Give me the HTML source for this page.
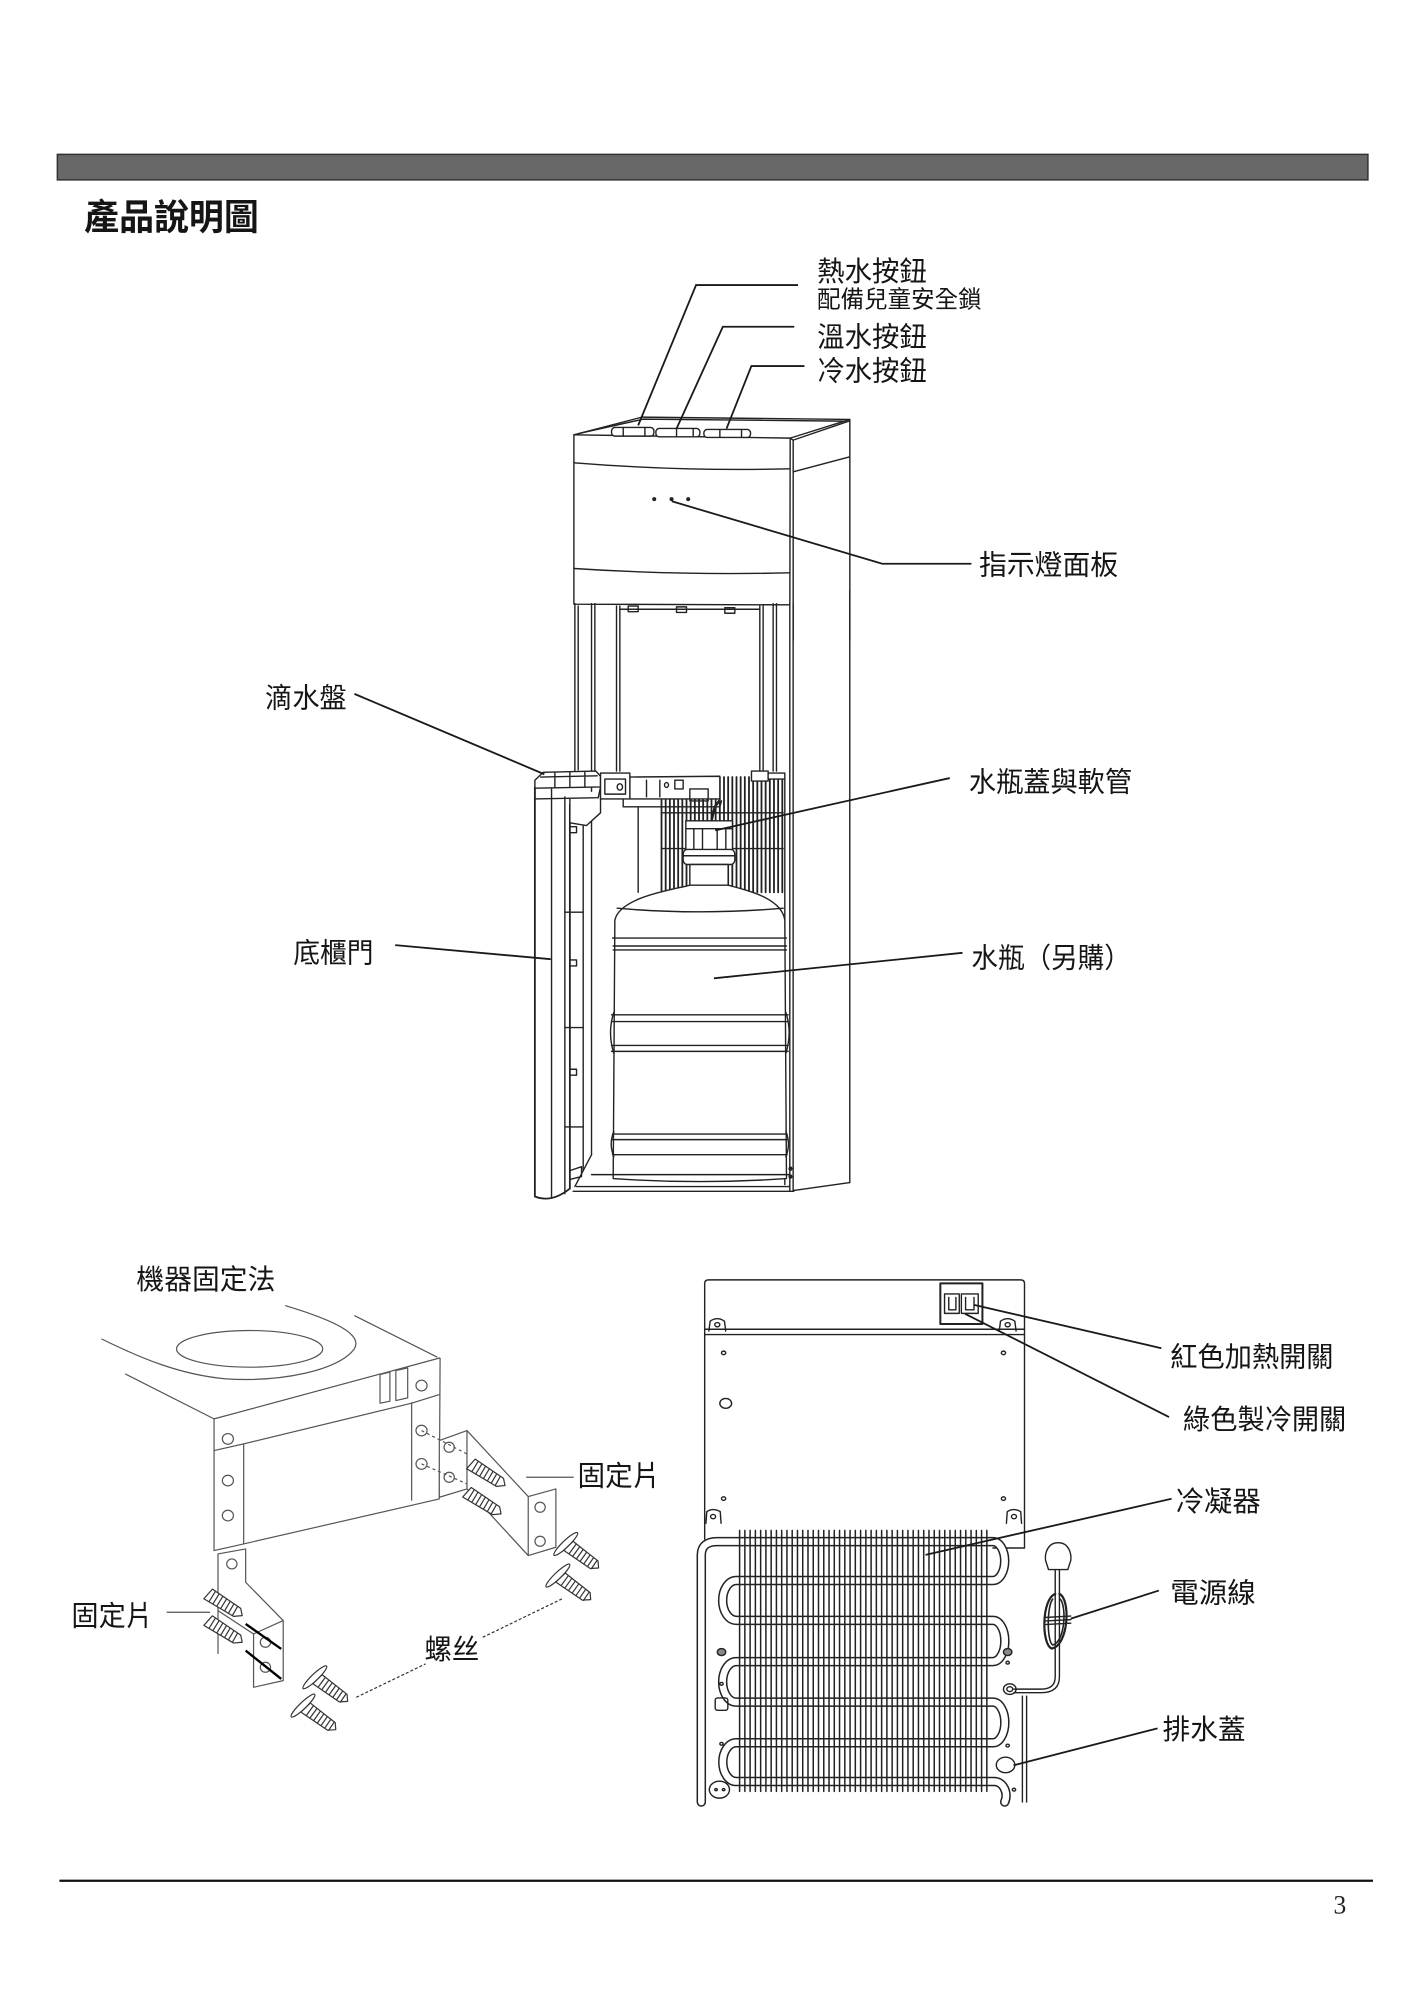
<!DOCTYPE html>
<html><head><meta charset="utf-8"><style>
html,body{margin:0;padding:0;background:#fff;}
svg{display:block;}
svg *{vector-effect:non-scaling-stroke;}
.t{font-family:"Liberation Sans","Noto Sans CJK TC","Noto Sans CJK SC",sans-serif;fill:#151515;}
.d{fill:none;stroke:#222;stroke-width:1.4;stroke-linejoin:round;stroke-linecap:round;}
.g{fill:none;stroke:#555;stroke-width:1.2;stroke-linejoin:round;}
.ld{fill:none;stroke:#1a1a1a;stroke-width:1.8;}
</style></head><body>
<svg width="1424" height="2000" viewBox="0 0 1117 1568" preserveAspectRatio="none" xmlns="http://www.w3.org/2000/svg">
<rect x="0" y="0" width="1117" height="1568" fill="#fff"/>
<!-- header bar -->
<rect x="45" y="121" width="1028" height="20" fill="#686868" stroke="#333" stroke-width="1.5"/>
<text class="t" x="66" y="180" font-size="28" font-weight="700" textLength="137" lengthAdjust="spacingAndGlyphs">產品說明圖</text>

<!-- ===== HEAD (zoom4 space) ===== -->
<g transform="translate(439.2,313.7) scale(0.2614)" class="d">
 <path d="M42,104 L246,51 L870,58 L691,114 Z" fill="#fff"/>
 <path d="M58,100 L250,57 L850,63"/>
 <rect x="155" y="82" width="127" height="26" rx="10" fill="#fff"/>
 <path d="M190,84 L190,106 M255,84 L255,106"/>
 <rect x="288" y="85" width="132" height="25" rx="10" fill="#fff"/>
 <path d="M350,87 L350,108 M400,87 L400,108"/>
 <rect x="432" y="88" width="140" height="24" rx="10" fill="#fff"/>
 <path d="M480,90 L480,110 M545,90 L545,110"/>
 <path d="M42,104 L42,612 L690,614 L691,114"/>
 <path d="M42,188 Q366,214 690,206"/>
 <path d="M42,505 Q366,526 690,518"/>
 <path d="M691,114 L700,120 L870,62"/>
 <path d="M700,120 L700,720"/>
 <path d="M870,58 L870,720"/>
 <path d="M700,215 L870,170"/>
 <circle cx="283" cy="297" r="4" fill="#222"/>
 <circle cx="335" cy="297" r="4" fill="#222"/>
 <circle cx="385" cy="297" r="4" fill="#222"/>
</g>

<!-- ===== CABINET (zoom3 space) ===== -->
<g transform="translate(407.8,462.7) scale(0.2614,0.3117)" class="d">
 <path d="M165,34 L165,460 M175,40 L175,452 M215,34 L215,1420 M225,34 L225,455 M290,40 L290,455 M300,40 L300,455"/>
 <path d="M300,48 L720,48"/>
 <rect x="325" y="40" width="30" height="14"/>
 <rect x="470" y="42" width="30" height="14"/>
 <rect x="615" y="44" width="30" height="14"/>
 <path d="M720,40 L720,455 M730,40 L730,455 M760,34 L760,455 M770,34 L770,455"/>
 <path d="M810,34 L810,1510 M820,34 L820,1510 M990,0 L990,1490 M795,470 L795,1495"/>
 <path d="M355,545 L355,760"/>
 <path stroke-width="1.8" d="M425,470V760M437.5,470V760M450,470V760M462.5,470V760M475,470V760M487.5,470V760M500,470V760M512.5,470V760M525,470V760M537.5,470V760M550,470V760M562.5,470V760M575,470V760M587.5,470V760M600,470V760M612.5,470V760M625,470V760M637.5,470V760M650,470V760M662.5,470V760M675,470V760M687.5,470V760M700,470V760M712.5,470V760M725,470V760M737.5,470V760M750,470V760M762.5,470V760M775,470V760M787.5,470V760"/>
 <path d="M425,560 L790,560 M425,650 L790,650"/>
 <rect x="695" y="455" width="50" height="25" fill="#fff"/>
 <rect x="745" y="460" width="50" height="15" fill="#fff"/>
 <path d="M330,470 L600,468 L600,525 L330,525 Z" fill="#fff"/>
 <path d="M310,525 L310,545 L600,545 L605,530"/>
 <circle cx="440" cy="490" r="6"/>
 <rect x="465" y="478" width="25" height="22"/>
 <path d="M510,500 L565,500 L565,530 L510,530 Z"/>
 <path d="M380,478 L380,520 M420,478 L420,520"/>
 <path d="M575,580 L585,545 L598,530" stroke-width="2.5"/>
 <rect x="498" y="580" width="140" height="75" fill="#fff"/>
 <path d="M498,600 L638,600 M522,600 L522,652 M548,600 L548,652 M592,600 L592,652 M618,600 L618,652"/>
 <rect x="490" y="652" width="155" height="38" rx="12" fill="#fff"/>
 <path d="M492,668 L643,668"/>
 <rect x="510" y="690" width="115" height="55" fill="#fff"/>
 <path d="M510,742 C470,752 300,770 285,830 L280,1480 Q540,1495 800,1480 L795,830 C785,770 665,752 625,742 Z" fill="#fff"/>
 <path d="M292,800 Q540,818 790,800 M278,875 L800,875"/>
 <path d="M280,895 L800,895 M280,905 L800,905"/>
 <path d="M275,1068 L805,1068 M275,1085 L805,1085 M275,1145 L805,1145 M275,1160 L805,1160"/>
 <path d="M282,1062 Q262,1112 282,1165 M798,1062 Q818,1112 798,1165"/>
 <path d="M278,1368 L802,1368 M278,1382 L802,1382 M278,1420 L802,1420"/>
 <path d="M282,1362 Q266,1392 282,1425 M798,1362 Q814,1392 798,1425"/>
 <path d="M282,1470 L800,1470"/>
 <path d="M215,1420 L165,1500 M170,1500 L810,1500 M160,1512 L822,1512 M215,1470 L280,1470 M800,1470 L810,1470"/>
 <path d="M820,1510 L990,1490"/>
 <circle cx="812" cy="1455" r="4" fill="#222"/>
 <circle cx="812" cy="1475" r="4" fill="#222"/>
 <path d="M45,495 L45,1525 Q95,1542 150,1505 L150,540" fill="#fff" stroke-width="1.8"/>
 <path d="M95,500 L95,1528 M135,520 L135,1518 M190,580 L190,1460"/>
 <rect x="150" y="595" width="20" height="15"/>
 <rect x="150" y="930" width="20" height="15"/>
 <rect x="150" y="1205" width="20" height="15"/>
 <path d="M135,810 L190,810 M135,1100 L190,1100 M135,1350 L190,1350"/>
 <path d="M150,1460 L185,1450 L185,1475 L150,1482"/>
 <path d="M150,525 L150,585 L200,592 L242,560 L242,500" fill="#fff"/>
 <path d="M45,478 L70,458 L228,455 L242,468 L242,495 L45,498 Z" fill="#fff"/>
 <path d="M45,498 L45,525 L235,522 L242,495"/>
 <path d="M62,470 L232,467 M105,460 L105,495 M150,458 L150,495 M195,457 L195,495"/>
 <rect x="242" y="460" width="88" height="65" fill="#fff"/>
 <rect x="255" y="475" width="62" height="38"/>
 <circle cx="300" cy="495" r="8"/>
</g>

<path class="ld" d="M626,223.5 L546,223.5 L500.6,333.5"/>
<path class="ld" d="M623,256.2 L567,256.2 L530.7,336"/>
<path class="ld" d="M631,287 L589.4,287 L569.9,336"/>
<text class="t" x="641" y="220.5" font-size="22" textLength="86" lengthAdjust="spacingAndGlyphs">熱水按鈕</text>
<text class="t" x="641" y="241" font-size="18.5" textLength="129" lengthAdjust="spacingAndGlyphs">配備兒童安全鎖</text>
<text class="t" x="641" y="271.5" font-size="22" textLength="86" lengthAdjust="spacingAndGlyphs">溫水按鈕</text>
<text class="t" x="641" y="298.5" font-size="22" textLength="86" lengthAdjust="spacingAndGlyphs">冷水按鈕</text>

<path class="ld" d="M527,393 L692,442 L762,442"/>
<text class="t" x="768" y="450.5" font-size="22" textLength="109" lengthAdjust="spacingAndGlyphs">指示燈面板</text>
<path class="ld" d="M278,544 L427,607"/>
<text class="t" x="208" y="554.5" font-size="22" textLength="64" lengthAdjust="spacingAndGlyphs">滴水盤</text>
<path class="ld" d="M745,610 L561,651"/>
<text class="t" x="760" y="620.5" font-size="22" textLength="128" lengthAdjust="spacingAndGlyphs">水瓶蓋與軟管</text>
<path class="ld" d="M310,741 L432,752"/>
<text class="t" x="230" y="754.5" font-size="22" textLength="63" lengthAdjust="spacingAndGlyphs">底櫃門</text>
<path class="ld" d="M755,747 L560,767"/>
<text class="t" x="762" y="758.5" font-size="22" textLength="125" lengthAdjust="spacingAndGlyphs">水瓶（另購）</text>

<!-- ===== BOTTOM LEFT (zoom5 space) ===== -->
<g transform="translate(47,980.4) scale(0.31,0.2614)" class="g">
 <path d="M105,265 C200,320 300,372 420,385 C560,395 705,360 745,295 C765,255 710,215 570,165"/>
 <path d="M165,370 L390,505"/>
 <path d="M745,195 L955,320"/>
 <ellipse cx="480" cy="295" rx="185" ry="55"/>
 <path d="M390,505 L962,322"/>
 <path d="M390,505 L390,900 L465,880 L960,745 L962,322"/>
 <path d="M390,600 L465,580 L890,458 L960,432"/>
 <path d="M465,580 L465,880 M890,455 L890,750"/>
 <path d="M810,372 L835,365 L835,452 L810,458 Z M850,360 L880,352 L880,442 L850,450 Z"/>
 <ellipse cx="425" cy="565" rx="14" ry="16"/>
 <ellipse cx="425" cy="690" rx="14" ry="16"/>
 <ellipse cx="425" cy="795" rx="14" ry="16"/>
 <ellipse cx="915" cy="405" rx="14" ry="16"/>
 <ellipse cx="915" cy="540" rx="14" ry="16"/>
 <ellipse cx="915" cy="640" rx="14" ry="16"/>
 <path d="M960,570 L1030,540 L1030,715 L960,740 Z" fill="#fff"/>
 <path d="M1030,540 L1185,738 L1255,715 L1255,890 L1185,915 L1185,738 M1030,715 L1185,915"/>
 <ellipse cx="985" cy="590" rx="13" ry="15"/>
 <ellipse cx="985" cy="680" rx="13" ry="15"/>
 <ellipse cx="1215" cy="770" rx="13" ry="15"/>
 <ellipse cx="1215" cy="872" rx="13" ry="15"/>
 <path d="M915,540 L1030,610 M915,640 L1030,700" stroke-dasharray="3 3"/>
 <g transform="translate(1040,640) rotate(37)" stroke="#333"><path d="M0,-18 L92,-15 L108,0 L92,15 L0,18 Z" fill="#fff"/><path d="M10,-18 L16,18 M22,-18 L28,18 M34,-17 L40,17 M46,-17 L52,17 M58,-16 L64,16 M70,-16 L76,16 M82,-15 L88,15"/></g>
 <g transform="translate(1030,725) rotate(37)" stroke="#333"><path d="M0,-18 L92,-15 L108,0 L92,15 L0,18 Z" fill="#fff"/><path d="M10,-18 L16,18 M22,-18 L28,18 M34,-17 L40,17 M46,-17 L52,17 M58,-16 L64,16 M70,-16 L76,16 M82,-15 L88,15"/></g>
 <path d="M1180,680 L1300,680"/>
 <path d="M400,910 L470,895 L470,995 L565,1110 L565,1290 L490,1310 L490,1150 L400,1080 Z" fill="#fff"/>
 <path d="M490,1150 L565,1110"/>
 <ellipse cx="435" cy="940" rx="13" ry="15"/>
 <ellipse cx="520" cy="1175" rx="13" ry="15"/>
 <ellipse cx="520" cy="1250" rx="13" ry="15"/>
 <path d="M400,1080 L400,1210" />
 <g transform="translate(375,1030) rotate(37)" stroke="#333"><path d="M0,-18 L92,-15 L108,0 L92,15 L0,18 Z" fill="#fff"/><path d="M10,-18 L16,18 M22,-18 L28,18 M34,-17 L40,17 M46,-17 L52,17 M58,-16 L64,16 M70,-16 L76,16 M82,-15 L88,15"/></g>
 <g transform="translate(375,1110) rotate(37)" stroke="#333"><path d="M0,-18 L92,-15 L108,0 L92,15 L0,18 Z" fill="#fff"/><path d="M10,-18 L16,18 M22,-18 L28,18 M34,-17 L40,17 M46,-17 L52,17 M58,-16 L64,16 M70,-16 L76,16 M82,-15 L88,15"/></g>
 <path d="M470,1120 L560,1195 M470,1200 L560,1285" stroke="#000" stroke-width="2.4"/>
 <path d="M270,1085 L380,1085"/>
 <g transform="translate(1280,880) rotate(41)" stroke="#333"><ellipse cx="0" cy="0" rx="9" ry="45" fill="#fff"/><path d="M9,-18 L95,-15 L110,0 L95,15 L9,18 Z" fill="#fff"/><path d="M20,-18 L26,18 M32,-18 L38,18 M44,-17 L50,17 M56,-17 L62,17 M68,-16 L74,16 M80,-16 L86,16 M92,-15 L98,15"/></g>
 <g transform="translate(1260,975) rotate(41)" stroke="#333"><ellipse cx="0" cy="0" rx="9" ry="45" fill="#fff"/><path d="M9,-18 L95,-15 L110,0 L95,15 L9,18 Z" fill="#fff"/><path d="M20,-18 L26,18 M32,-18 L38,18 M44,-17 L50,17 M56,-17 L62,17 M68,-16 L74,16 M80,-16 L86,16 M92,-15 L98,15"/></g>
 <g transform="translate(645,1280) rotate(41)" stroke="#333"><ellipse cx="0" cy="0" rx="9" ry="45" fill="#fff"/><path d="M9,-18 L95,-15 L110,0 L95,15 L9,18 Z" fill="#fff"/><path d="M20,-18 L26,18 M32,-18 L38,18 M44,-17 L50,17 M56,-17 L62,17 M68,-16 L74,16 M80,-16 L86,16 M92,-15 L98,15"/></g>
 <g transform="translate(615,1365) rotate(41)" stroke="#333"><ellipse cx="0" cy="0" rx="9" ry="45" fill="#fff"/><path d="M9,-18 L95,-15 L110,0 L95,15 L9,18 Z" fill="#fff"/><path d="M20,-18 L26,18 M32,-18 L38,18 M44,-17 L50,17 M56,-17 L62,17 M68,-16 L74,16 M80,-16 L86,16 M92,-15 L98,15"/></g>
 <path d="M1070,1160 L1270,1045 M750,1340 L925,1240" stroke="#333" stroke-dasharray="3 2"/>
</g>
<text class="t" x="107" y="1010.5" font-size="22" textLength="109" lengthAdjust="spacingAndGlyphs">機器固定法</text>
<text class="t" x="453" y="1164.5" font-size="22" textLength="65" lengthAdjust="spacingAndGlyphs">固定片</text>
<text class="t" x="56" y="1274.5" font-size="22" textLength="64" lengthAdjust="spacingAndGlyphs">固定片</text>
<text class="t" x="333" y="1300.5" font-size="22" textLength="43" lengthAdjust="spacingAndGlyphs">螺丝</text>

<!-- ===== BOTTOM RIGHT (zoom6 space) ===== -->
<g transform="translate(541.2,988.2) scale(0.3301,0.2766)" class="d">
 <path d="M35,790 L35,65 Q35,55 45,55 L785,55 Q795,55 795,65 L795,815 L720,815"/>
 <path d="M35,195 L795,195 M35,210 L795,210"/>
 <rect x="595" y="65" width="100" height="115" stroke-width="2"/>
 <rect x="605" y="95" width="35" height="55"/>
 <rect x="645" y="95" width="40" height="55"/>
 <path d="M615,105 L615,140 L632,140 L632,105 M655,105 L655,140 L675,140 L675,105"/>
 <path d="M45,200 L48,172 Q65,158 82,172 L85,200"/><circle cx="65" cy="182" r="6"/>
 <path d="M735,200 L738,172 Q755,158 772,172 L775,200"/><circle cx="755" cy="182" r="6"/>
 <path d="M38,745 L40,712 Q55,700 72,712 L74,745"/><circle cx="55" cy="726" r="6"/>
 <path d="M752,745 L754,712 Q770,700 786,712 L788,745"/><circle cx="770" cy="726" r="6"/>
 <circle cx="80" cy="262" r="5"/><circle cx="745" cy="262" r="5"/>
 <circle cx="80" cy="675" r="5"/><circle cx="745" cy="675" r="5"/>
 <circle cx="85" cy="405" r="14"/>
 <path d="M27,1535 L27,835 Q27,797 65,797 L720,797 A28,55 0 0 1 720,907 L110,907 A32,56 0 0 0 110,1020 L720,1020 A28,58 0 0 1 720,1137 L110,1137 A32,57 0 0 0 110,1252 L720,1252 A28,57 0 0 1 720,1367 L110,1367 A32,55 0 0 0 110,1477 L720,1477 A28,40 0 0 1 748,1535" stroke="#222" stroke-width="9.5" stroke-linejoin="round"/>
 <path d="M27,1535 L27,835 Q27,797 65,797 L720,797 A28,55 0 0 1 720,907 L110,907 A32,56 0 0 0 110,1020 L720,1020 A28,58 0 0 1 720,1137 L110,1137 A32,57 0 0 0 110,1252 L720,1252 A28,57 0 0 1 720,1367 L110,1367 A32,55 0 0 0 110,1477 L720,1477 A28,40 0 0 1 748,1535" stroke="#fff" stroke-width="6.5" stroke-linejoin="round"/>
 <path stroke-width="1.5" d="M118,765V1505M130.5,765V1505M143,765V1505M155.5,765V1505M168,765V1505M180.5,765V1505M193,765V1505M205.5,765V1505M218,765V1505M230.5,765V1505M243,765V1505M255.5,765V1505M268,765V1505M280.5,765V1505M293,765V1505M305.5,765V1505M318,765V1505M330.5,765V1505M343,765V1505M355.5,765V1505M368,765V1505M380.5,765V1505M393,765V1505M405.5,765V1505M418,765V1505M430.5,765V1505M443,765V1505M455.5,765V1505M468,765V1505M480.5,765V1505M493,765V1505M505.5,765V1505M518,765V1505M530.5,765V1505M543,765V1505M555.5,765V1505M568,765V1505M580.5,765V1505M593,765V1505M605.5,765V1505M618,765V1505M630.5,765V1505M643,765V1505M655.5,765V1505M668,765V1505M680.5,765V1505M693,765V1505M705.5,765V1505"/>
 <path d="M790,1235 L790,1535 M800,1235 L800,1535"/>
 <circle cx="75" cy="1110" r="10" fill="#888"/><circle cx="755" cy="1110" r="10" fill="#888"/>
 <circle cx="755" cy="1140" r="4"/><circle cx="75" cy="1200" r="4"/><circle cx="755" cy="1375" r="4"/>
 <circle cx="770" cy="1500" r="4"/><circle cx="75" cy="1370" r="4"/>
 <rect x="60" y="1240" width="30" height="35" rx="6"/>
 <circle cx="70" cy="1500" r="24"/><circle cx="62" cy="1500" r="3"/><circle cx="80" cy="1500" r="3"/>
 <circle cx="760" cy="1215" r="15"/><circle cx="760" cy="1215" r="7"/>
 <circle cx="750" cy="1430" r="22"/>
 <path d="M875,800 C850,800 843,830 845,850 L852,876 L898,876 L905,850 C907,830 900,800 875,800 Z" fill="#fff"/>
 <path d="M868,878 L868,1180 Q868,1215 835,1215 L770,1215 M878,878 L878,1180 Q878,1225 835,1225 L770,1225"/>
 <path d="M868,945 C835,960 835,1090 860,1100 C900,1090 905,960 878,945" stroke-width="2.2"/>
 <path d="M862,960 C848,980 848,1080 862,1090 C892,1080 895,980 880,960" stroke-width="1.6"/>
 <path d="M842,1012 L905,1008 M842,1022 L905,1018 M842,1032 L905,1028"/>
</g>
<path class="ld" d="M764,1023 L911,1057"/>
<path class="ld" d="M757,1030 L917,1111"/>
<path class="ld" d="M726,1219 L919,1175"/>
<path class="ld" d="M840,1269 L909,1247"/>
<path class="ld" d="M795,1384 L908,1355"/>
<text class="t" x="918" y="1071.5" font-size="22" textLength="128" lengthAdjust="spacingAndGlyphs">紅色加熱開關</text>
<text class="t" x="928" y="1120.5" font-size="22" textLength="128" lengthAdjust="spacingAndGlyphs">綠色製冷開關</text>
<text class="t" x="922" y="1184.5" font-size="22" textLength="67" lengthAdjust="spacingAndGlyphs">冷凝器</text>
<text class="t" x="918" y="1256.5" font-size="22" textLength="67" lengthAdjust="spacingAndGlyphs">電源線</text>
<text class="t" x="912" y="1363.5" font-size="22" textLength="65" lengthAdjust="spacingAndGlyphs">排水蓋</text>

<line x1="46.6" y1="1474.5" x2="1077" y2="1474.5" stroke="#111" stroke-width="2.2"/>
<text x="1046" y="1500" font-family="'Liberation Serif',serif" font-size="21" fill="#222" textLength="10" lengthAdjust="spacingAndGlyphs">3</text>
</svg>
</body></html>
